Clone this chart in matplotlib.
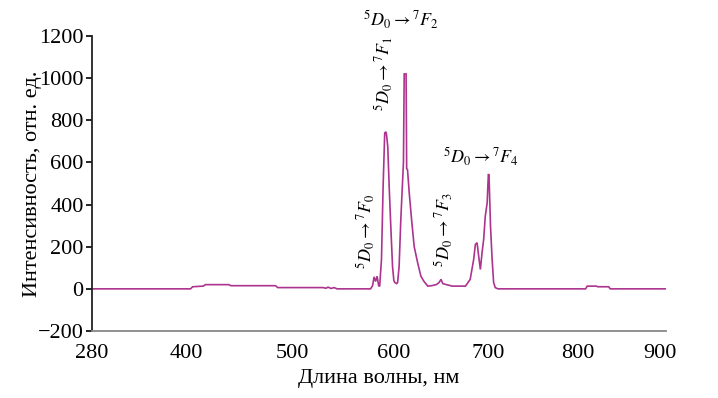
import numpy as np
import matplotlib
matplotlib.use("Agg")
import matplotlib.pyplot as plt

plt.rcParams['font.family'] = ['Liberation Serif', 'DejaVu Serif']
plt.rcParams['mathtext.fontset'] = 'stix'

# Spectrum (wavelength, nm) and intensity (rel. units)
wavelength = [280, 404, 406, 416, 418, 440, 442, 484, 486, 530, 533, 535, 538, 541, 544,
              577, 579, 580.5, 582, 583.5, 585, 586, 587.8, 589.4, 591, 592.2, 592.8, 594,
              595.4, 597, 598.7, 600, 601, 603, 604, 605.6, 607.4, 609, 610.2, 611.0, 613.0,
              613.6, 614.5, 616.3, 618.8, 621.6, 625.2, 628.7, 632, 636, 640, 645, 648, 650,
              652, 655, 662, 676, 681, 684.7, 686.5, 688.3, 690, 691.8, 693.6, 695.3, 697,
              699, 700.3, 701, 702.7, 704.5, 706.2, 708, 711, 810, 812, 823, 825, 838, 840, 908]
intensity = [0, 0, 10, 13, 20, 20, 15, 15, 6, 6, 3, 8, 2, 6, 0,
             0, 15, 57, 35, 60, 15, 12, 140, 485, 740, 745, 730, 675,
             485, 296, 107, 40, 30, 25, 30, 107, 330, 485, 600, 1020, 1020,
             570, 566, 457, 330, 200, 125, 60, 35, 13, 15, 20, 30, 45,
             25, 21, 13, 13, 45, 140, 211, 219, 155, 92, 173, 235, 345,
             408, 545, 540, 298, 140, 30, 6, 0, 0, 13, 13, 10, 10, 0, 0]

x_ticks = [280, 400, 500, 600, 700, 800, 900]
y_ticks = [-200, 0, 200, 400, 600, 800, 1000, 1200]

# Non-uniform axis of the original figure (piecewise-linear scale)
scale_vals = [280, 400, 500, 600, 700, 800, 900, 910]
scale_pix = [92, 186, 292, 393, 487, 576, 658, 666]

def fwd(v):
    return np.interp(v, scale_vals, scale_pix)

def inv(p):
    return np.interp(p, scale_pix, scale_vals)

fig = plt.figure(figsize=(7.18, 3.98), dpi=100)
ax = fig.add_axes([92/718, 1 - 331/398, (666-92)/718, (331-36)/398])
ax.set_xscale('function', functions=(fwd, inv))

color = '#AC348F'
ax.plot(wavelength, intensity, color=color, lw=1.2, solid_joinstyle='miter')

ax.set_xlim(280, 908)
ax.set_ylim(-200, 1200)
ax.set_xticks(x_ticks)
ax.set_xticklabels([str(t) for t in x_ticks])
ax.set_yticks(y_ticks)
ax.minorticks_off()

for s in ['top', 'right']:
    ax.spines[s].set_visible(False)
ax.spines['left'].set_color('#222222')
ax.spines['left'].set_linewidth(1.3)
ax.spines['bottom'].set_color('#888888')
ax.spines['bottom'].set_linewidth(1.3)

ax.tick_params(axis='x', length=0, pad=9, labelsize=16)
ax.tick_params(axis='y', length=4, width=1.2, pad=2, labelsize=16, direction='out')

ax.set_xlabel('Длина волны, нм', fontsize=16, labelpad=5)
ax.set_ylabel('Интенсивность, отн. ед.', fontsize=16, labelpad=-3)

fs = 13
ax.text(607, 1275, r'$^5D_0\rightarrow{}^7F_2$', fontsize=fs, ha='center', va='center', clip_on=False)
ax.text(590, 1020, r'$^5D_0\rightarrow{}^7F_1$', fontsize=fs, ha='center', va='center', rotation=90)
ax.text(572, 272, r'$^5D_0\rightarrow{}^7F_0$', fontsize=fs, ha='center', va='center', rotation=90)
ax.text(653, 282, r'$^5D_0\rightarrow{}^7F_3$', fontsize=fs, ha='center', va='center', rotation=90)
ax.text(692, 628, r'$^5D_0\rightarrow{}^7F_4$', fontsize=fs, ha='center', va='center')

fig.savefig('out.png', dpi=100)
